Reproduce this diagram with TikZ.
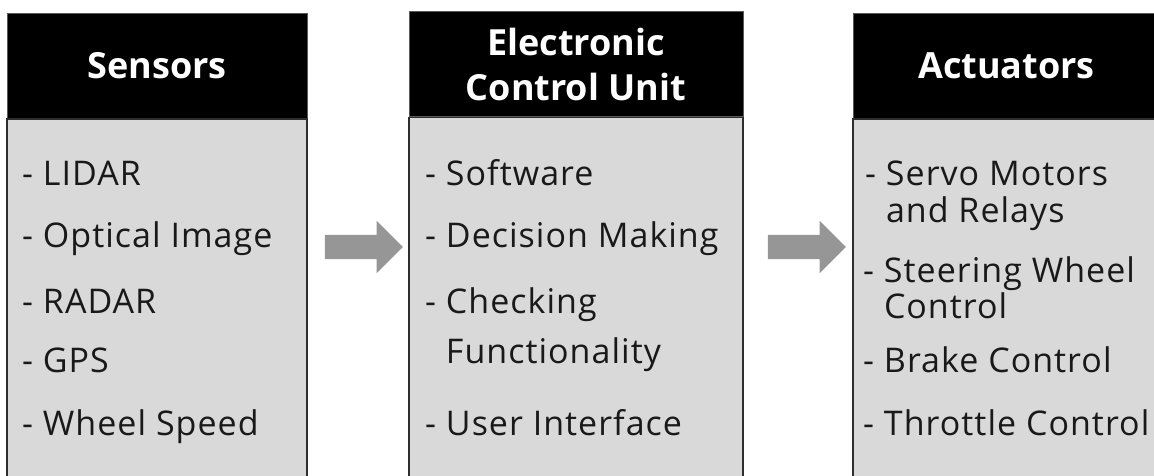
\documentclass[tikz,border=0pt]{standalone}
\usepackage{fontspec}
\setmainfont{Open Sans}
\newfontfamily\itemfont{Open Sans}[LetterSpace=3]
\newfontfamily\titlefont{Open Sans}[BoldFont={Open Sans Bold}]
\usetikzlibrary{shapes.arrows,calc}
\definecolor{panelgray}{HTML}{D9D9D9}
\definecolor{arrowgray}{HTML}{969696}
\definecolor{edgegray}{HTML}{2E2E2E}
\definecolor{headedge}{HTML}{5A5A5A}
\tikzset{
  headbox/.style={draw=headedge, line width=0.8pt, fill=black, text=white,
    minimum height=105pt, inner sep=0pt, align=center,
    font=\titlefont\bfseries\fontsize{36}{45}\selectfont},
  panelbox/.style={draw=edgegray, line width=1.3pt, fill=panelgray,
    minimum height=362pt, inner sep=0pt, anchor=north},
  listitem/.style={anchor=base west, inner sep=0pt, text=black!90,
    font=\itemfont\fontsize{34}{36}\selectfont},
  blockarrow/.style={single arrow, fill=arrowgray, draw=none, anchor=tail,
    minimum height=78pt, inner xsep=0pt, inner ysep=12pt,
    single arrow head extend=14pt, single arrow head indent=0pt}
}
\begin{document}
\begin{tikzpicture}[x=1pt,y=-1pt]
\useasboundingbox (0,0) rectangle (1154,475);
\clip (0,0) rectangle (1154,475);

% Sensors column
\node[headbox, minimum width=300pt] (senshead) at (157,65.5) {Sensors};
\node[panelbox, minimum width=300pt] (sensbody) at (senshead.south) {};
\node[listitem] (s1) at (22,185) {- LIDAR};
\node[listitem] (s2) at (22,247) {- Optical Image};
\node[listitem] (s3) at (22,313) {- RADAR};
\node[listitem] (s4) at (22,372) {- GPS};
\node[listitem] (s5) at (22,435) {- Wheel Speed};

% Electronic control unit column
\node[headbox, minimum width=334pt] (ecuhead) at (576,64) {Electronic\\Control Unit};
\node[panelbox, minimum width=334pt] (ecubody) at (ecuhead.south) {};
\node[listitem] (e1) at (425,185) {- Software};
\node[listitem] (e2) at (425,247) {- Decision Making};
\node[listitem] (e3) at (425,313) {- Checking};
\node[listitem] (e3b) at (425,363) {\phantom{- }Functionality};
\node[listitem] (e4) at (425,435) {- User Interface};

% Actuators column
\node[headbox, minimum width=307pt] (acthead) at (1006.5,65.5) {Actuators};
\node[panelbox, minimum width=307pt] (actbody) at (acthead.south) {};
\node[listitem] (a1) at (865,185) {- Servo Motors};
\node[listitem] (a1b) at (865,222) {\phantom{- }and Relays};
\node[listitem] (a2) at (863,282) {- Steering Wheel};
\node[listitem] (a2b) at (863,318) {\phantom{- }Control};
\node[listitem] (a3) at (863,372) {- Brake Control};
\node[listitem] (a4) at (863,435) {- Throttle Control};

% Flow arrows between the stages, each starting a fixed gap after its source panel
\coordinate (flowrow) at (0,247);
\node[blockarrow] (flow1) at ($(sensbody.east |- flowrow) + (17,0)$) {};
\node[blockarrow] (flow2) at ($(ecubody.east |- flowrow) + (24,0)$) {};
\end{tikzpicture}
\end{document}
